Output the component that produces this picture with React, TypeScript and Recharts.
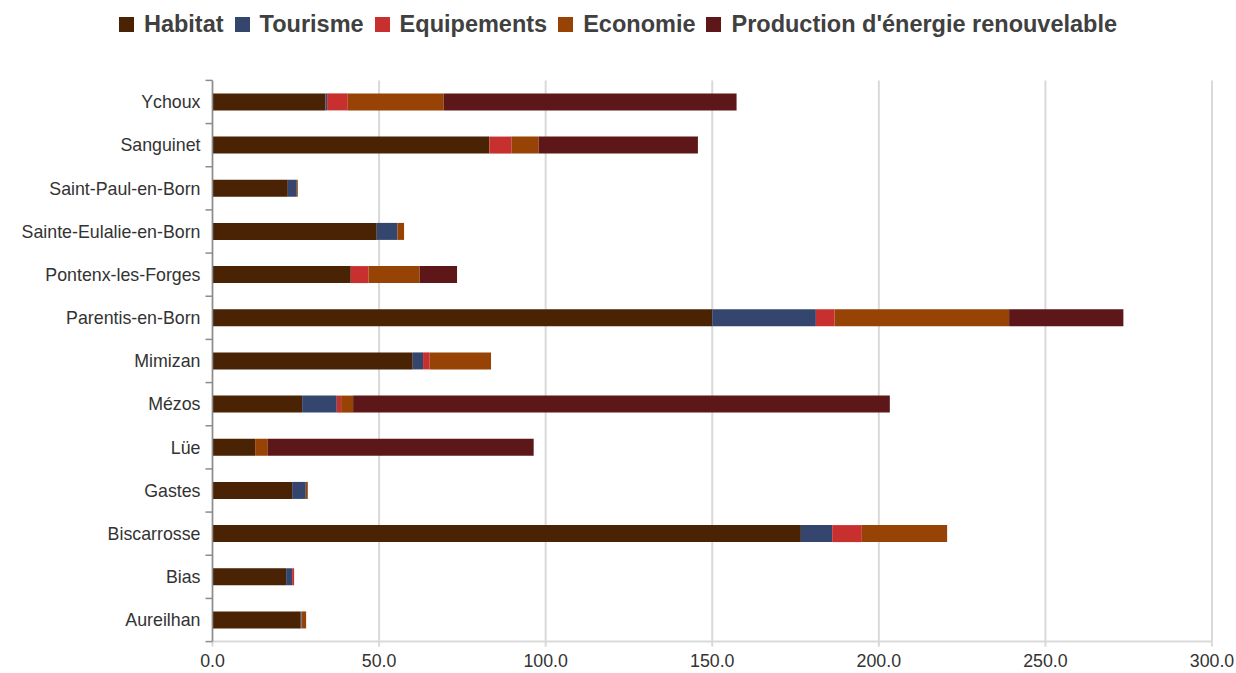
import React from "react";
import { BarChart, Bar, XAxis, YAxis, CartesianGrid } from "recharts";

const categories = [
  "Ychoux",
  "Sanguinet",
  "Saint-Paul-en-Born",
  "Sainte-Eulalie-en-Born",
  "Pontenx-les-Forges",
  "Parentis-en-Born",
  "Mimizan",
  "Mézos",
  "Lüe",
  "Gastes",
  "Biscarrosse",
  "Bias",
  "Aureilhan",
];

const habitat = [33.9, 83.1, 22.6, 49.3, 41.5, 150.0, 60.1, 26.9, 12.8, 23.9, 176.6, 22.1, 26.3];
const tourisme = [0.5, 0, 2.7, 6.2, 0, 31.1, 3.1, 10.4, 0, 4.1, 9.4, 1.8, 0.4];
const equipements = [6.2, 6.6, 0, 0, 5.3, 5.6, 2.0, 1.3, 0, 0, 8.9, 0.6, 0];
const economie = [28.8, 8.2, 0.3, 2.0, 15.4, 52.4, 18.4, 3.6, 3.8, 0.6, 25.6, 0, 1.4];
const production = [87.9, 47.8, 0, 0, 11.2, 34.3, 0, 161.1, 79.8, 0, 0, 0, 0];

const xTicks = [0, 50, 100, 150, 200, 250, 300];

const seriesNames = ["Habitat", "Tourisme", "Equipements", "Economie", "Production d'énergie renouvelable"];
const seriesKeys = ["habitat", "tourisme", "equipements", "economie", "production"];
const seriesColors = ["#4A2204", "#35466E", "#C8302F", "#974305", "#5E1719"];

const data = categories.map((name, i) => ({
  name,
  habitat: habitat[i],
  tourisme: tourisme[i],
  equipements: equipements[i],
  economie: economie[i],
  production: production[i],
}));

const W = 1236;
const H = 673;
const PLOT_LEFT = 212.5;
const PLOT_TOP = 80.4;
const PLOT_BOTTOM = 641.6;
const BAND = (PLOT_BOTTOM - PLOT_TOP) / categories.length;
const FONT = "'Liberation Sans', Arial, sans-serif";

const YTick = (props: any) => {
  const { y, payload, index } = props;
  const lines = [
    <line key="t" x1={PLOT_LEFT - 7} x2={PLOT_LEFT} y1={y - BAND / 2} y2={y - BAND / 2} stroke="#8c8c8c" strokeWidth={1.5} />,
  ];
  if (index === categories.length - 1) {
    lines.push(
      <line key="b" x1={PLOT_LEFT - 7} x2={PLOT_LEFT} y1={y + BAND / 2} y2={y + BAND / 2} stroke="#8c8c8c" strokeWidth={1.5} />
    );
  }
  return (
    <g>
      {lines}
      <text x={PLOT_LEFT - 12} y={y} dy="0.35em" textAnchor="end" fontSize={17.8} fill="#333333" fontFamily={FONT}>
        {payload.value}
      </text>
    </g>
  );
};

const LegendBox = () => (
  <div
    style={{
      position: "absolute",
      left: 0,
      top: 8,
      width: W,
      height: 32,
      display: "flex",
      justifyContent: "center",
      alignItems: "center",
      fontFamily: FONT,
      fontWeight: "bold",
      fontSize: 23.5,
      color: "#404040",
      whiteSpace: "nowrap",
    }}
  >
    {seriesNames.map((n, i) => (
      <div key={n} style={{ display: "flex", alignItems: "center", marginRight: i < seriesNames.length - 1 ? 11 : 0 }}>
        <span style={{ display: "inline-block", width: 15, height: 15, background: seriesColors[i], marginRight: 10 }} />
        <span>{n}</span>
      </div>
    ))}
  </div>
);

export default function App() {
  return (
    <div style={{ position: "absolute", left: 0, top: 0, width: W, height: H, background: "#fff" }}>
      <LegendBox />
      <BarChart
        width={W}
        height={H}
        data={data}
        layout="vertical"
        margin={{ top: PLOT_TOP, right: W - 1212, bottom: 0, left: 0 }}
        barSize={17}
      >
        <CartesianGrid horizontal={false} stroke="#d9d9d9" strokeWidth={2} />
        <XAxis
          type="number"
          domain={[0, 300]}
          ticks={xTicks}
          interval={0}
          tickFormatter={(v: number) => v.toFixed(1)}
          height={H - PLOT_BOTTOM}
          stroke="#d9d9d9"
          strokeWidth={2}
          tickSize={5}
          tickMargin={8}
          tick={{ fontSize: 17.8, fill: "#333333", fontFamily: FONT }}
        />
        <YAxis
          type="category"
          dataKey="name"
          width={PLOT_LEFT}
          interval={0}
          tickLine={false}
          stroke="#8c8c8c"
          strokeWidth={1.5}
          tick={<YTick />}
        />
        {seriesKeys.map((k, i) => (
          <Bar key={k} dataKey={k} name={seriesNames[i]} stackId="a" fill={seriesColors[i]} isAnimationActive={false} />
        ))}
      </BarChart>
    </div>
  );
}
